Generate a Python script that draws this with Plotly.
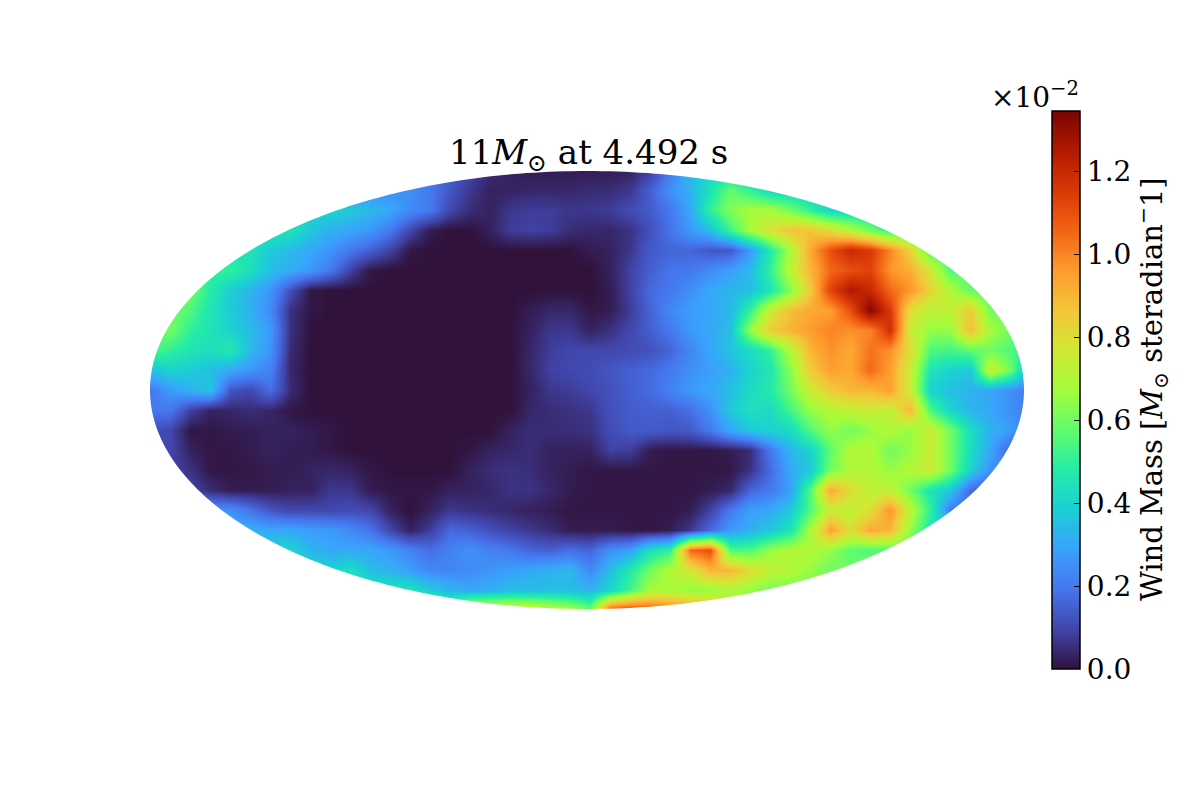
import numpy as np
import plotly.graph_objects as go

# wind mass per steradian, in units of 1e-3, every 20 px
row_170 = [2,2,2,2,2,2,2,2,2,2,2,2,2,2,2,1.5,1,.5,.3,.2,.2,.2,.2,.2,.3,.8,2,3.5,4,4,4,4,4,4,4,4,4,4,4,4,4,4,4,4,4]
row_190 = [2.5,2.5,2.5,2.5,2.5,2.5,2.5,2.5,2.5,2.5,2.5,2.5,2.5,2.5,2,1.3,.7,.3,.3,.4,.4,.4,.5,.5,.7,1.5,2.5,3.2,4.5,5.8,5,4,4,4,4,4,4,4,4,4,4,4,4,4,4]
row_210 = [4,4,4,4,4,4,4,4,4,4,3.7,3.4,3,2.4,2,1,.5,.3,.7,.8,.8,.7,.7,.8,1.1,1.4,2,3,5,6.2,6.8,6.8,6,5,4,4,4,4,4,4,4,4,4,4,4]
row_230 = [4.5,4.5,4.5,4.5,4.5,4.5,4.5,4.5,3.7,3.2,3,2.7,2,1,.2,0,0,.3,.8,.9,.8,.5,.4,.4,.6,1.2,1.9,2.7,3.5,5.2,6.8,7.8,8.7,8.7,8,7,6,5,5,5,5,5,5,5,5]
row_250 = [4.5,4.5,4.5,4.5,4.5,4.5,3.8,3.4,3,2.6,2,1.5,.9,.1,0,0,0,0,0,0,0,0,.2,.3,.7,1.4,1.6,1.6,1.3,1.3,2.7,4.7,6.8,9.3,11,12,11.5,10,8.3,5.5,5,5,5,5,5]
row_270 = [5,5,5,5,5,4.3,3.5,3.1,2.7,2,.9,.1,0,0,0,0,0,0,0,0,0,0,0,.3,.9,1.5,1.9,2,2.4,2.8,3.4,5,7.2,9,10.5,11,11.3,9.7,9.2,7.7,5.5,5.5,5.5,5.5,5.5]
row_290 = [6,6,6,4.8,3.8,3.3,2.6,1.2,.1,0,0,0,0,0,0,0,0,0,0,0,0,0,0,.2,.9,1.7,2,2.5,3,3.3,3.5,4.5,6.2,8.5,11.3,12.5,12,10.5,9.7,8.3,7,5.8,5.5,5.5,5.5]
row_310 = [6,6,5.5,4.5,3.8,3.2,2.4,.6,.1,0,0,0,0,0,0,0,0,0,0,.2,.4,.4,.1,.2,.8,1.6,2.3,2.8,3,3.3,5,7.5,8.8,9.3,9.5,11,13.3,11.5,8,7.2,7.3,8.5,6,6,6]
row_330 = [6,6,5,4.5,4,3.4,2.7,.6,0,0,0,0,0,0,0,0,0,0,0,.3,.7,.7,.3,.6,1,1.5,2,2.7,3,3.5,6.5,8.5,9,9.6,10,9.8,10,11.8,7.5,6.5,6.5,8.8,6.8,6,6]
row_350 = [5.5,5,4.5,4.3,4.7,3.4,2.6,.5,0,0,0,0,0,0,0,0,0,0,0,.4,.8,1,1,1,1.1,1.2,1.6,2.3,3,3.6,4.2,5,7,9,9.8,9.3,10.3,9.8,8,5.5,5.3,5.7,6,5.5,5]
row_370 = [3.5,4,3.8,3.5,3,2.6,2.2,.4,0,0,0,0,0,0,0,0,0,0,0,.4,.9,1,1.1,1.3,1.5,1.7,2,2.5,2.8,3.2,4,4.6,6.3,8.5,9.5,9.3,10.5,9.5,7.5,4.5,4,3.7,7.5,6,3]
row_390 = [2,2.7,3.2,3.6,1.3,1,1.8,.5,0,0,0,0,0,0,0,0,0,0,0,.3,.7,.8,1,1.2,1.5,1.7,2.2,2.7,3,3.5,4.2,4.7,6,7.5,8.5,9,9,9.5,7.5,4,3.5,3.2,3,2.5,2]
row_410 = [2,2,.9,.3,.4,.5,.4,.1,0,0,0,0,0,0,0,0,0,0,0,.4,.5,.6,.7,1.2,1.4,1.5,1.5,1.8,2.5,3.7,4.4,4.2,5.3,6.5,7,7.3,7.5,7.3,9,5.5,4,3.3,3,2.5,2]
row_430 = [1.2,1,.1,.1,.2,.2,.3,.3,.2,.1,0,0,0,0,0,0,0,0,.3,.5,.5,.5,.6,1.1,1.4,1.4,1.3,1.4,2,3,3.7,4,4.2,5.5,6.5,6,6.5,7,6.5,7.5,6,4.3,3.2,2.8,2]
row_450 = [1,1,.3,.1,.1,.2,.3,.2,.2,.1,0,0,0,0,0,0,.1,.3,.4,.5,.3,.3,.3,.9,.8,.2,.1,.1,.1,.2,.5,2,3.3,4,5.7,7,7,6,6.5,7.5,6,4.3,3,1.5,1.5]
row_470 = [1,1,.6,.1,.1,.1,.2,.2,.3,.4,.3,.1,0,0,0,0,.3,.5,.6,.5,.3,.2,.1,.1,.1,.1,.1,.1,.1,.1,.6,1.7,3,3.7,6,7,7,6.5,7,7.5,6,4,2.5,2.5,2.5]
row_490 = [1,1,1,.5,.2,.2,.2,.3,.3,.7,.7,.2,.1,.1,.1,.3,.3,.4,.6,.6,.4,.2,.1,.1,.1,.1,.1,.1,.2,.4,1.6,2,2.8,5.5,9.3,8,7.2,7.3,6,4.5,3.7,1.7,1,1,1]
row_510 = [2.5,2.5,2.5,2.5,2.5,1.9,1.3,1,1,1,1.1,1,.3,0,.3,.7,.6,.5,.4,.3,.2,.1,.1,.1,.1,.1,.1,.2,.9,2,2.8,3,3.7,5.5,7.5,7.2,8,9.7,7.2,5,2,1.5,1.5,1.5,1.5]
row_530 = [3.2,3.2,3.2,3.2,3.2,3.2,3,3,2.8,2.7,2.4,1.9,1,.3,.8,1.7,1.5,1.2,.9,.7,.5,.2,.2,.2,.1,.1,.2,.7,1.7,2.7,3.2,3.7,4.5,6.8,9.5,8,9.3,9,6.5,4.5,4.5,4.5,4.5,4.5,4.5]
row_550 = [4,4,4,4,4,4,4,4,3.3,3,3,3,2.7,2.2,1.8,2.2,2.5,2.2,2,1.6,1.5,1.8,1.6,2.5,2.8,4.4,5,10.5,11,5.5,5.5,6.5,7,7,6.5,5.7,5.5,5.5,5.5,5.5,5.5,5.5,5.5,5.5,5.5]
row_570 = [4,4,4,4,4,4,4,4,4,4,4.3,3.5,3.2,2.8,2.3,2.3,2.4,2.6,2.8,3,3.2,3.3,2.3,3.5,4.7,6,7,7.7,9,9,8,7.3,7,6.5,6,6,6,6,6,6,6,6,6,6,6]
row_590 = [4.5,4.5,4.5,4.5,4.5,4.5,4.5,4.5,4.5,4.5,4.5,4.5,4.5,4.5,3.8,3.3,3,3.2,3.5,3.5,3.5,3.5,3.3,4,5.3,6.8,6.8,6.5,6.5,7,6.5,6,6,6,6,6,6,6,6,6,6,6,6,6,6]
row_610 = [6,6,6,6,6,6,6,6,6,6,6,6,6,6,6,6,8,8,8,8,7.5,7,6,11,11.5,11,10.5,10,9.5,7,6,6,6,6,6,6,6,6,6,6,6,6,6,6,6]

wind_mass = [row_170, row_190, row_210, row_230, row_250, row_270, row_290, row_310,
             row_330, row_350, row_370, row_390, row_410, row_430, row_450, row_470,
             row_490, row_510, row_530, row_550, row_570, row_590, row_610]

tick_vals = [0, 2, 4, 6, 8, 10, 12]
tick_text = ["0.0", "0.2", "0.4", "0.6", "0.8", "1.0", "1.2"]

# map plane: the ellipse spans -1..1 on both axes
map_x = -1 + np.arange(45) * 20 / 437
map_y = (390 - (170 + np.arange(23) * 20)) / 219

fnt = "DejaVu Serif"

fig = go.Figure()
fig.add_trace(go.Heatmap(
    x=map_x, y=map_y, z=wind_mass, zsmooth="best",
    colorscale="Turbo", zmin=0, zmax=13.45,
    colorbar=dict(
        x=(1052 - 150) / 874, xanchor="left", xpad=0,
        y=(609 - 111) / 438, yanchor="top", ypad=0,
        len=558, lenmode="pixels", thickness=28, thicknessmode="pixels",
        outlinecolor="black", outlinewidth=1.5,
        tickvals=tick_vals, ticktext=tick_text,
        ticks="inside", ticklen=6, tickcolor="black", tickwidth=1,
        tickfont=dict(family=fnt, size=28, color="black"),
    ),
))

# white out everything outside the ellipse
t = np.linspace(0, 2 * np.pi, 361)
edge = " ".join(f"L{np.cos(a):.4f},{np.sin(a):.4f}" for a in t)
mask = "M-1,-1.01 L1,-1.01 L1,1.01 L-1,1.01 Z M1,0 " + edge + " Z"
fig.add_shape(type="path", path=mask, xref="x", yref="y", layer="above",
              fillcolor="white", fillrule="evenodd", line=dict(width=0))

# the page body adds 8 px on the left and top
fig.update_layout(
    width=1200, height=800, autosize=False,
    margin=dict(l=142, r=184, t=163, b=199),
    paper_bgcolor="white", plot_bgcolor="white",
    xaxis=dict(range=[-1, 1], visible=False),
    yaxis=dict(range=[-1, 1], visible=False),
    font=dict(family=fnt, color="black"),
    annotations=[
        dict(text="11<i>M</i><sub>⊙</sub> at 4.492 s", x=(588 - 150) / 874, y=(609 - 179) / 438,
             xref="paper", yref="paper", xanchor="center", yanchor="bottom",
             showarrow=False, font=dict(family=fnt, size=34)),
        dict(text="×10<sup>−2</sup>", x=(1081 - 150) / 874, y=(609 - 116) / 438,
             xref="paper", yref="paper", xanchor="right", yanchor="bottom",
             showarrow=False, font=dict(family=fnt, size=28)),
        dict(text="Wind Mass [<i>M</i><sub>⊙</sub> steradian<sup>−</sup>1]", x=(1152 - 150) / 874, y=(609 - 389) / 438,
             xref="paper", yref="paper", xanchor="center", yanchor="middle", textangle=-90,
             showarrow=False, font=dict(family=fnt, size=29)),
    ],
)

fig.write_html("out.html")
